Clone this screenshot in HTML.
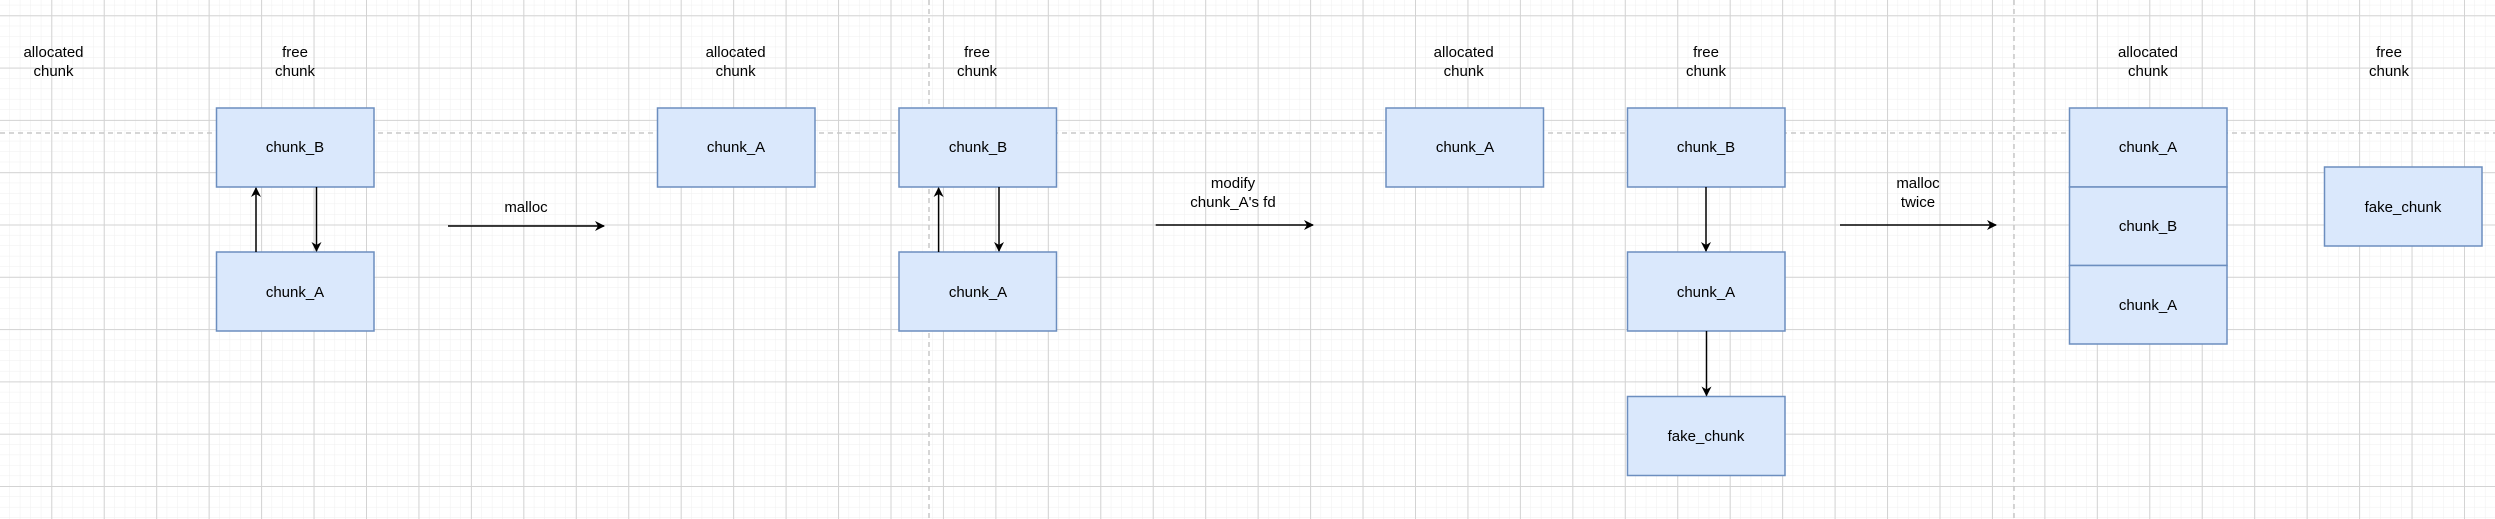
<!DOCTYPE html>
<html><head><meta charset="utf-8"><style>
html,body{margin:0;padding:0;background:#fff;}
svg{display:block;}
text{font-family:"Liberation Sans",Arial,sans-serif;font-size:15px;fill:#000;}
</style></head><body>
<svg width="2495" height="519" viewBox="0 0 2495 519" xmlns="http://www.w3.org/2000/svg">
<defs>
<pattern id="minor" x="51.3" y="15.3" width="10.49" height="10.46" patternUnits="userSpaceOnUse">
<path d="M0 0H10.49M0 0V10.46" stroke="#efefef" stroke-width="1" fill="none"/>
</pattern>
<pattern id="major" x="51.3" y="15.3" width="52.45" height="52.3" patternUnits="userSpaceOnUse">
<path d="M0 0.5H52.45M0.5 0V52.3" stroke="#d3d3d3" stroke-width="1" fill="none"/>
</pattern>
<marker id="ar" markerWidth="10" markerHeight="10" refX="9" refY="5" orient="auto" markerUnits="userSpaceOnUse">
<path d="M0 0L10 5L0 10L3 5Z" fill="#000"/>
</marker>
</defs>
<rect width="2495" height="519" fill="#fff"/>
<rect width="2495" height="519" fill="url(#minor)"/>
<rect width="2495" height="519" fill="url(#major)"/>
<line x1="0" y1="133" x2="2495" y2="133" stroke="#c8c8c8" stroke-width="1.5" stroke-dasharray="5,4"/>
<line x1="929" y1="0" x2="929" y2="519" stroke="#c8c8c8" stroke-width="1.5" stroke-dasharray="5,4"/>
<line x1="2014" y1="0" x2="2014" y2="519" stroke="#c8c8c8" stroke-width="1.5" stroke-dasharray="5,4"/>

<g fill="#dae8fc" stroke="#6c8ebf" stroke-width="1.5">
<rect x="216.5" y="108" width="157.5" height="79"/>
<rect x="216.5" y="252" width="157.5" height="79"/>
<rect x="657.5" y="108" width="157.5" height="79"/>
<rect x="899" y="108" width="157.5" height="79"/>
<rect x="899" y="252" width="157.5" height="79"/>
<rect x="1386" y="108" width="157.5" height="79"/>
<rect x="1627.5" y="108" width="157.5" height="79"/>
<rect x="1627.5" y="252" width="157.5" height="79"/>
<rect x="1627.5" y="396.5" width="157.5" height="79"/>
<rect x="2069.5" y="108" width="157.5" height="79"/>
<rect x="2069.5" y="187" width="157.5" height="78.5"/>
<rect x="2069.5" y="265.5" width="157.5" height="78.5"/>
<rect x="2324.5" y="167" width="157.5" height="79"/>
</g>

<g stroke="#000" stroke-width="1.5" fill="none" marker-end="url(#ar)">
<line x1="256" y1="252" x2="256" y2="188"/>
<line x1="316.5" y1="187" x2="316.5" y2="251"/>
<line x1="448" y1="226" x2="604" y2="226"/>
<line x1="938.6" y1="252" x2="938.6" y2="188"/>
<line x1="999" y1="187" x2="999" y2="251"/>
<line x1="1155.7" y1="225" x2="1313" y2="225"/>
<line x1="1706" y1="187" x2="1706" y2="251"/>
<line x1="1706.5" y1="331" x2="1706.5" y2="395.5"/>
<line x1="1840" y1="225" x2="1996" y2="225"/>
</g>

<g text-anchor="middle">
<text x="53.5" y="57">allocated</text><text x="53.5" y="76">chunk</text>
<text x="295" y="57">free</text><text x="295" y="76">chunk</text>
<text x="735.6" y="57">allocated</text><text x="735.6" y="76">chunk</text>
<text x="977" y="57">free</text><text x="977" y="76">chunk</text>
<text x="1463.7" y="57">allocated</text><text x="1463.7" y="76">chunk</text>
<text x="1706" y="57">free</text><text x="1706" y="76">chunk</text>
<text x="2148" y="57">allocated</text><text x="2148" y="76">chunk</text>
<text x="2389" y="57">free</text><text x="2389" y="76">chunk</text>

<text x="295" y="152">chunk_B</text>
<text x="295" y="297">chunk_A</text>
<text x="526" y="212">malloc</text>
<text x="736" y="152">chunk_A</text>
<text x="978" y="152">chunk_B</text>
<text x="978" y="297">chunk_A</text>
<text x="1233" y="188">modify</text><text x="1233" y="207">chunk_A's fd</text>
<text x="1465" y="152">chunk_A</text>
<text x="1706" y="152">chunk_B</text>
<text x="1706" y="297">chunk_A</text>
<text x="1706" y="441">fake_chunk</text>
<text x="1918" y="188">malloc</text><text x="1918" y="207">twice</text>
<text x="2148" y="152">chunk_A</text>
<text x="2148" y="231">chunk_B</text>
<text x="2148" y="310">chunk_A</text>
<text x="2403" y="212">fake_chunk</text>
</g>
</svg>
</body></html>
